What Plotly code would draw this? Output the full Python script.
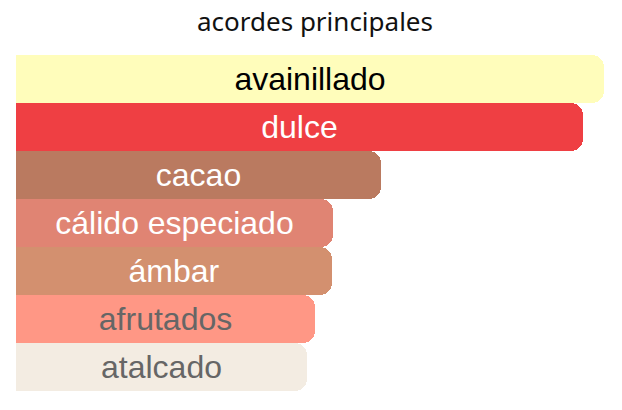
import plotly.graph_objects as go

# acordes principales (valores en % del acorde mayor)
acordes = ['avainillado', 'dulce', 'cacao', 'cálido especiado', 'ámbar', 'afrutados', 'atalcado']
valores = [100, 96.4, 62.1, 53.9, 53.7, 50.9, 49.5]
colores = ['#FFFDBB', '#EF3F43', '#BA7A60', '#E08473', '#D3906F', '#FF9785', '#F3ECE2']
colores_texto = ['#000000', '#FFFFFF', '#FFFFFF', '#FFFFFF', '#FFFFFF', '#666666', '#666666']

fig = go.Figure(go.Bar(
    x=valores,
    y=acordes,
    orientation='h',
    marker=dict(color=colores, line=dict(width=0)),
    text=acordes,
    textposition='inside',
    insidetextanchor='middle',
    textfont=dict(family='Liberation Sans, Arial, sans-serif', size=32, color=colores_texto),
    constraintext='none',
    hoverinfo='skip',
))

# la página tiene 8px de margen, por eso 614x402
fig.update_layout(
    width=614,
    height=402,
    title=dict(
        text='acordes principales',
        x=0.5,
        xanchor='center',
        y=1 - 14 / 402,
        yanchor='middle',
        font=dict(family='Noto Sans', size=26, color='#111111'),
    ),
    margin=dict(l=8, r=18, t=47, b=19, pad=0),
    bargap=0,
    barcornerradius=12,
    plot_bgcolor='white',
    paper_bgcolor='white',
    showlegend=False,
)
fig.update_xaxes(range=[0, 100], visible=False)
fig.update_yaxes(autorange='reversed', visible=False)

fig.write_html("out.html")
